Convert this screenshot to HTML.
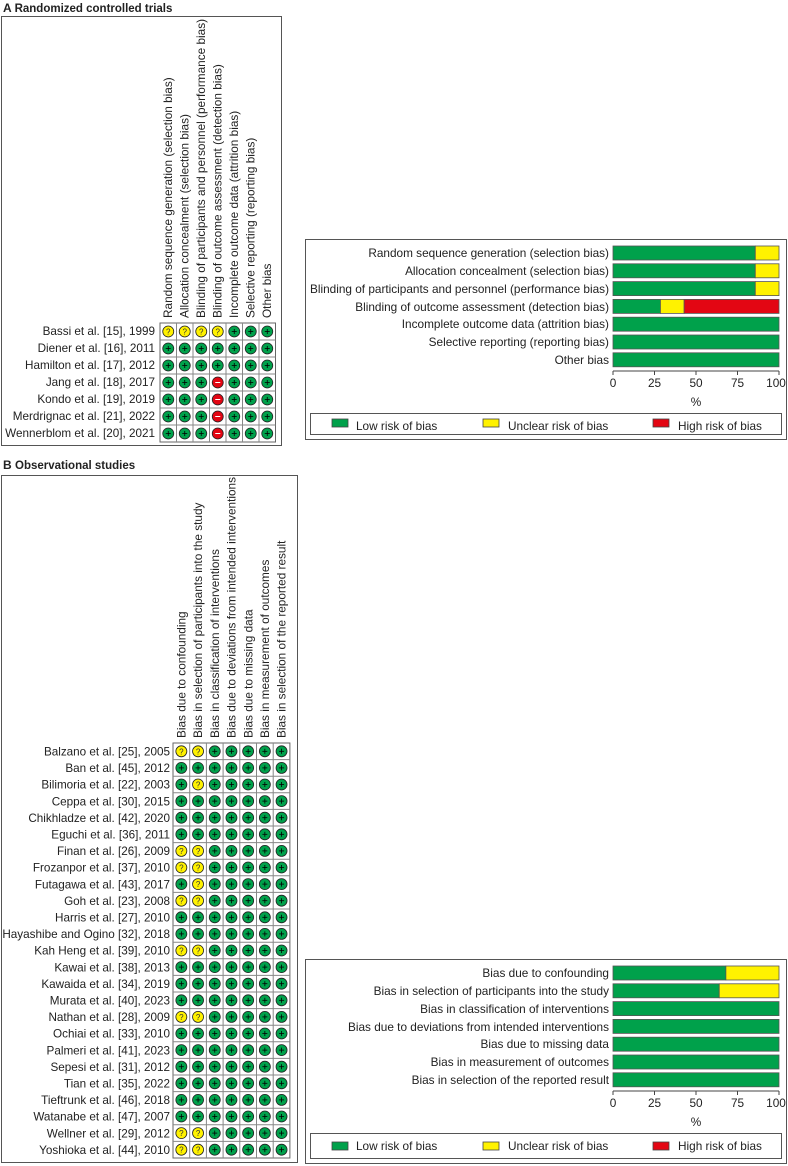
<!DOCTYPE html>
<html><head><meta charset="utf-8"><style>
html,body{margin:0;padding:0;background:#fff;}
svg{display:block;font-family:"Liberation Sans",Arial,sans-serif;}
</style></head><body>
<svg id="s" width="788" height="1166" viewBox="0 0 788 1166" xmlns="http://www.w3.org/2000/svg">
<g font-size="11.5" fill="#222">
<text x="3" y="12" font-weight="bold" font-size="12">A <tspan font-size="11.5">Randomized controlled trials</tspan></text>
<text x="3" y="469" font-weight="bold" font-size="12">B <tspan font-size="11.5">Observational studies</tspan></text>
</g>
<rect x="1.5" y="16.5" width="280" height="429" fill="none" stroke="#555" stroke-width="1"/>
<rect x="1.5" y="475.5" width="296" height="687" fill="none" stroke="#555" stroke-width="1"/>
<rect x="305.5" y="239.5" width="481" height="200" fill="none" stroke="#555" stroke-width="1"/>
<rect x="305.5" y="959.5" width="481" height="204" fill="none" stroke="#555" stroke-width="1"/>
<!-- A headers -->
<g font-size="11.8" fill="#222">
<text transform="translate(172,318) rotate(-90)">Random sequence generation (selection bias)</text>
<text transform="translate(188.5,318) rotate(-90)">Allocation concealment (selection bias)</text>
<text transform="translate(205,318) rotate(-90)">Blinding of participants and personnel (performance bias)</text>
<text transform="translate(221.5,318) rotate(-90)">Blinding of outcome assessment (detection bias)</text>
<text transform="translate(238,318) rotate(-90)">Incomplete outcome data (attrition bias)</text>
<text transform="translate(254.5,318) rotate(-90)">Selective reporting (reporting bias)</text>
<text transform="translate(271,318) rotate(-90)">Other bias</text>
</g>
<g font-size="11.7" fill="#222" text-anchor="end">
<text x="155" y="335">Bassi et al. [15], 1999</text>
<text x="155" y="352">Diener et al. [16], 2011</text>
<text x="155" y="369">Hamilton et al. [17], 2012</text>
<text x="155" y="386">Jang et al. [18], 2017</text>
<text x="155" y="403">Kondo et al. [19], 2019</text>
<text x="155" y="420">Merdrignac et al. [21], 2022</text>
<text x="155" y="437">Wennerblom et al. [20], 2021</text>
</g>
<!-- B headers -->
<g font-size="11.8" fill="#222">
<text transform="translate(185.5,738) rotate(-90)">Bias due to confounding</text>
<text transform="translate(202.2,738) rotate(-90)">Bias in selection of participants into the study</text>
<text transform="translate(218.9,738) rotate(-90)">Bias in classification of interventions</text>
<text transform="translate(235.6,738) rotate(-90)">Bias due to deviations from intended interventions</text>
<text transform="translate(252.3,738) rotate(-90)">Bias due to missing data</text>
<text transform="translate(269,738) rotate(-90)">Bias in measurement of outcomes</text>
<text transform="translate(285.7,738) rotate(-90)">Bias in selection of the reported result</text>
</g>
<g font-size="11.7" fill="#222" text-anchor="end">
<text x="170" y="755.5">Balzano et al. [25], 2005</text>
<text x="170" y="772.1">Ban et al. [45], 2012</text>
<text x="170" y="788.7">Bilimoria et al. [22], 2003</text>
<text x="170" y="805.3">Ceppa et al. [30], 2015</text>
<text x="170" y="821.9">Chikhladze et al. [42], 2020</text>
<text x="170" y="838.5">Eguchi et al. [36], 2011</text>
<text x="170" y="855.1">Finan et al. [26], 2009</text>
<text x="170" y="871.7">Frozanpor et al. [37], 2010</text>
<text x="170" y="888.3">Futagawa et al. [43], 2017</text>
<text x="170" y="904.9">Goh et al. [23], 2008</text>
<text x="170" y="921.5">Harris et al. [27], 2010</text>
<text x="170" y="938.1">Hayashibe and Ogino [32], 2018</text>
<text x="170" y="954.7">Kah Heng et al. [39], 2010</text>
<text x="170" y="971.3">Kawai et al. [38], 2013</text>
<text x="170" y="987.9">Kawaida et al. [34], 2019</text>
<text x="170" y="1004.5">Murata et al. [40], 2023</text>
<text x="170" y="1021.1">Nathan et al. [28], 2009</text>
<text x="170" y="1037.7">Ochiai et al. [33], 2010</text>
<text x="170" y="1054.3">Palmeri et al. [41], 2023</text>
<text x="170" y="1070.9">Sepesi et al. [31], 2012</text>
<text x="170" y="1087.5">Tian et al. [35], 2022</text>
<text x="170" y="1104.1">Tieftrunk et al. [46], 2018</text>
<text x="170" y="1120.7">Watanabe et al. [47], 2007</text>
<text x="170" y="1137.3">Wellner et al. [29], 2012</text>
<text x="170" y="1153.9">Yoshioka et al. [44], 2010</text>
</g>
<!-- bar chart A labels -->
<g font-size="11.8" fill="#222" text-anchor="end">
<text x="609" y="257">Random sequence generation (selection bias)</text>
<text x="609" y="275">Allocation concealment (selection bias)</text>
<text x="609" y="293">Blinding of participants and personnel (performance bias)</text>
<text x="609" y="311">Blinding of outcome assessment (detection bias)</text>
<text x="609" y="328">Incomplete outcome data (attrition bias)</text>
<text x="609" y="346">Selective reporting (reporting bias)</text>
<text x="609" y="364">Other bias</text>
</g>
<g font-size="11.8" fill="#222" text-anchor="end">
<text x="609" y="977">Bias due to confounding</text>
<text x="609" y="995">Bias in selection of participants into the study</text>
<text x="609" y="1013">Bias in classification of interventions</text>
<text x="609" y="1031">Bias due to deviations from intended interventions</text>
<text x="609" y="1048">Bias due to missing data</text>
<text x="609" y="1066">Bias in measurement of outcomes</text>
<text x="609" y="1084">Bias in selection of the reported result</text>
</g>
<g font-size="11.8" fill="#222" text-anchor="middle">
<text x="613" y="387">0</text><text x="654.5" y="387">25</text><text x="696" y="387">50</text><text x="737.5" y="387">75</text><text x="776" y="387">100</text>
<text x="696" y="406">%</text>
<text x="613" y="1107">0</text><text x="654.5" y="1107">25</text><text x="696" y="1107">50</text><text x="737.5" y="1107">75</text><text x="776" y="1107">100</text>
<text x="696" y="1126">%</text>
</g>
<g font-size="11.8" fill="#222">
<text x="356" y="430">Low risk of bias</text><text x="508" y="430">Unclear risk of bias</text><text x="678" y="430">High risk of bias</text>
<text x="356" y="1150">Low risk of bias</text><text x="508" y="1150">Unclear risk of bias</text><text x="678" y="1150">High risk of bias</text>
</g>
<rect x="310.5" y="413.5" width="471" height="21" fill="none" stroke="#555"/>
<rect x="310.5" y="1133.5" width="471" height="25" fill="none" stroke="#555"/>
<g stroke="#444" stroke-width="0.8">
<rect x="332" y="419" width="16" height="8" fill="#00a14b"/><rect x="483" y="419" width="16" height="8" fill="#fff200"/><rect x="653" y="419" width="16" height="8" fill="#e30613"/>
<rect x="332" y="1142" width="16" height="8" fill="#00a14b"/><rect x="483" y="1142" width="16" height="8" fill="#fff200"/><rect x="653" y="1142" width="16" height="8" fill="#e30613"/>
</g>
<g id="dyn"></g>
</svg>
<script>
var NS="http://www.w3.org/2000/svg",g=document.getElementById("dyn");
function el(t,a){var e=document.createElementNS(NS,t);for(var k in a)e.setAttribute(k,a[k]);g.appendChild(e);return e;}
var C={g:"#00a14b",y:"#fff200",r:"#e30613"};
function grid(x0,y0,cw,rh,rows){
  var nr=rows.length;
  el("rect",{x:x0,y:y0,width:cw*7,height:rh*nr,fill:"#fff",stroke:"#666","stroke-width":1});
  for(var i=1;i<7;i++)el("line",{x1:x0+i*cw,x2:x0+i*cw,y1:y0,y2:y0+rh*nr,stroke:"#888","stroke-width":1});
  for(var j=1;j<nr;j++)el("line",{x1:x0,x2:x0+cw*7,y1:y0+j*rh,y2:y0+j*rh,stroke:"#888","stroke-width":1});
  rows.forEach(function(r,j){for(var i=0;i<7;i++){var c=r[i],cx=x0+(i+.5)*cw,cy=y0+(j+.5)*rh;
    el("circle",{cx:cx,cy:cy,r:5.5,fill:C[c],stroke:"#222","stroke-width":0.8});
    if(c=="g"){el("line",{x1:cx-2.5,x2:cx+2.5,y1:cy,y2:cy,stroke:"#000","stroke-width":0.8});el("line",{x1:cx,x2:cx,y1:cy-2.5,y2:cy+2.5,stroke:"#000","stroke-width":0.8});}
    else if(c=="r"){el("line",{x1:cx-2.5,x2:cx+2.5,y1:cy,y2:cy,stroke:"#fff","stroke-width":1});}
    else{var t=el("text",{x:cx,y:cy+3,"font-size":8,"text-anchor":"middle",fill:"#333"});t.textContent="?";}
  }});
}
grid(160,323,16.5,17,["yyyyggg","ggggggg","ggggggg","gggrggg","gggrggg","gggrggg","gggrggg"]);
var B=[];var yy=[0,6,7,9,12,16,23,24];
for(var j=0;j<25;j++){var r="ggggggg";if(yy.indexOf(j)>=0)r="yyggggg";if(j==2||j==8)r="gyggggg";B.push(r);}
grid(173,743,16.7,16.6,B);
function bars(y0,data){
  var x0=613,w=166;
  el("line",{x1:x0,x2:x0+w,y1:y0+125,y2:y0+125,stroke:"#444"});
  [0,.25,.5,.75,1].forEach(function(f){el("line",{x1:x0+f*w,x2:x0+f*w,y1:y0+125,y2:y0+129,stroke:"#444"});});
  data.forEach(function(d,j){var y=y0+j*17.8,x=x0;
    d.forEach(function(p,k){if(p>0){el("rect",{x:x,y:y,width:p*w,height:14,fill:[C.g,C.y,C.r][k],stroke:"#555","stroke-width":0.8});x+=p*w;}});
  });
}
bars(246,[[6/7,1/7,0],[6/7,1/7,0],[6/7,1/7,0],[2/7,1/7,4/7],[1,0,0],[1,0,0],[1,0,0]]);
bars(966,[[.68,.32,0],[.64,.36,0],[1,0,0],[1,0,0],[1,0,0],[1,0,0],[1,0,0]]);
</script>
</body></html>
